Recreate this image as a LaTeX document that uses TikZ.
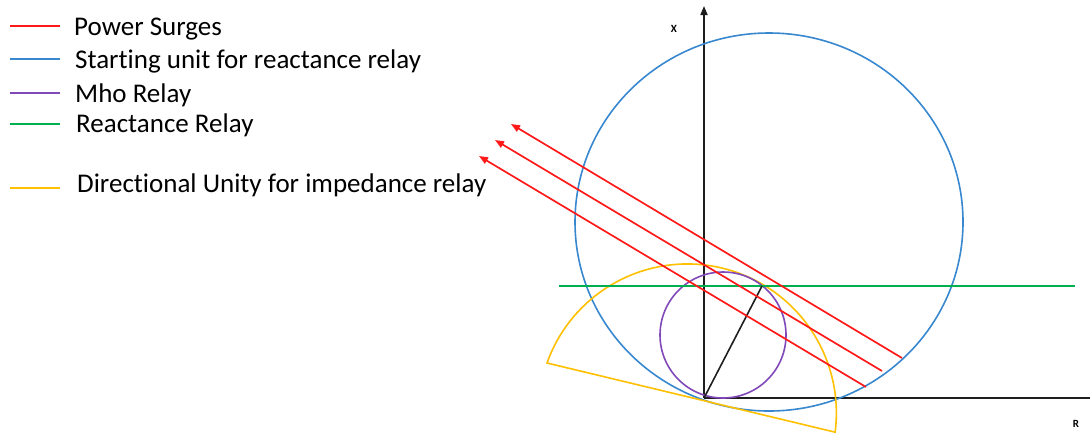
\documentclass[tikz,border=0pt]{standalone}
\usepackage{fontspec}
\setmainfont{Carlito}[Ligatures=NoCommon]
\usetikzlibrary{arrows.meta}
\definecolor{surge}{RGB}{255,25,25}
\definecolor{startblue}{RGB}{56,136,208}
\definecolor{mho}{RGB}{128,72,184}
\definecolor{react}{RGB}{0,176,80}
\definecolor{direc}{RGB}{255,192,0}
\definecolor{axisc}{RGB}{30,30,30}
\begin{document}
\begin{tikzpicture}[x=1pt,y=-1pt,
  legline/.style={line width=1.6pt},
  legtext/.style={anchor=base west,inner sep=0pt,font=\fontsize{27}{30}\selectfont},
  curve/.style={line width=1.6pt},
  surgearrow/.style={surge,line width=1.7pt,-{Triangle[length=9pt,width=7pt]}},
  axislab/.style={font=\bfseries\fontsize{11}{12}\selectfont,inner sep=0pt}]
\useasboundingbox (0,0) rectangle (1091,440);
% legend
\draw[legline,surge] (10,26) -- (60,26);
\node[legtext] (l1) at (74,35) {Power Surges};
\draw[legline,startblue] (10,59) -- (60,59);
\node[legtext] (l2) at (75,68) {Starting unit for reactance relay};
\draw[legline,mho] (10,93) -- (60,93);
\node[legtext] (l3) at (75,102) {Mho Relay};
\draw[legline,react] (10,124) -- (60,124);
\node[legtext] (l4) at (76,132) {Reactance Relay};
\draw[legline,direc] (10,188) -- (60,188);
\node[legtext] (l5) at (77,192) {Directional Unity for impedance relay};
% axes
\coordinate (O) at (704,398);
\coordinate (Xtop) at (704,6);
\coordinate (Rend) at (1090,398);
\draw[axisc,line width=1.7pt,-{Triangle[length=9pt,width=7pt]}] (O) -- (Xtop);
\draw[axisc,line width=1.7pt] (O) -- (Rend);
\node[axislab] (xl) at (674,29) {X};
\node[axislab] (rl) at (1076,424) {R};
% starting unit circle
\draw[curve,startblue] (769,222) ellipse [x radius=194, y radius=189];
% directional unit sector
\draw[curve,direc] (547,363) arc[start angle=199.6, end angle=367.4, radius=149] -- cycle;
% mho circle
\draw[curve,mho] (723,335) circle[radius=63];
% reactance line
\coordinate (g1) at (559,286);
\coordinate (g2) at (1075,286);
\draw[curve,react] (g1) -- (g2);
% impedance line
\coordinate (P) at (762,286);
\draw[axisc,line width=1.6pt] (O) -- (P);
% power surges
\coordinate (s1a) at (902,358); \coordinate (s1b) at (511,124);
\coordinate (s2a) at (882,371); \coordinate (s2b) at (495,140);
\coordinate (s3a) at (866,387); \coordinate (s3b) at (479,156);
\draw[surgearrow] (s1a) -- (s1b);
\draw[surgearrow] (s2a) -- (s2b);
\draw[surgearrow] (s3a) -- (s3b);
\end{tikzpicture}
\end{document}
